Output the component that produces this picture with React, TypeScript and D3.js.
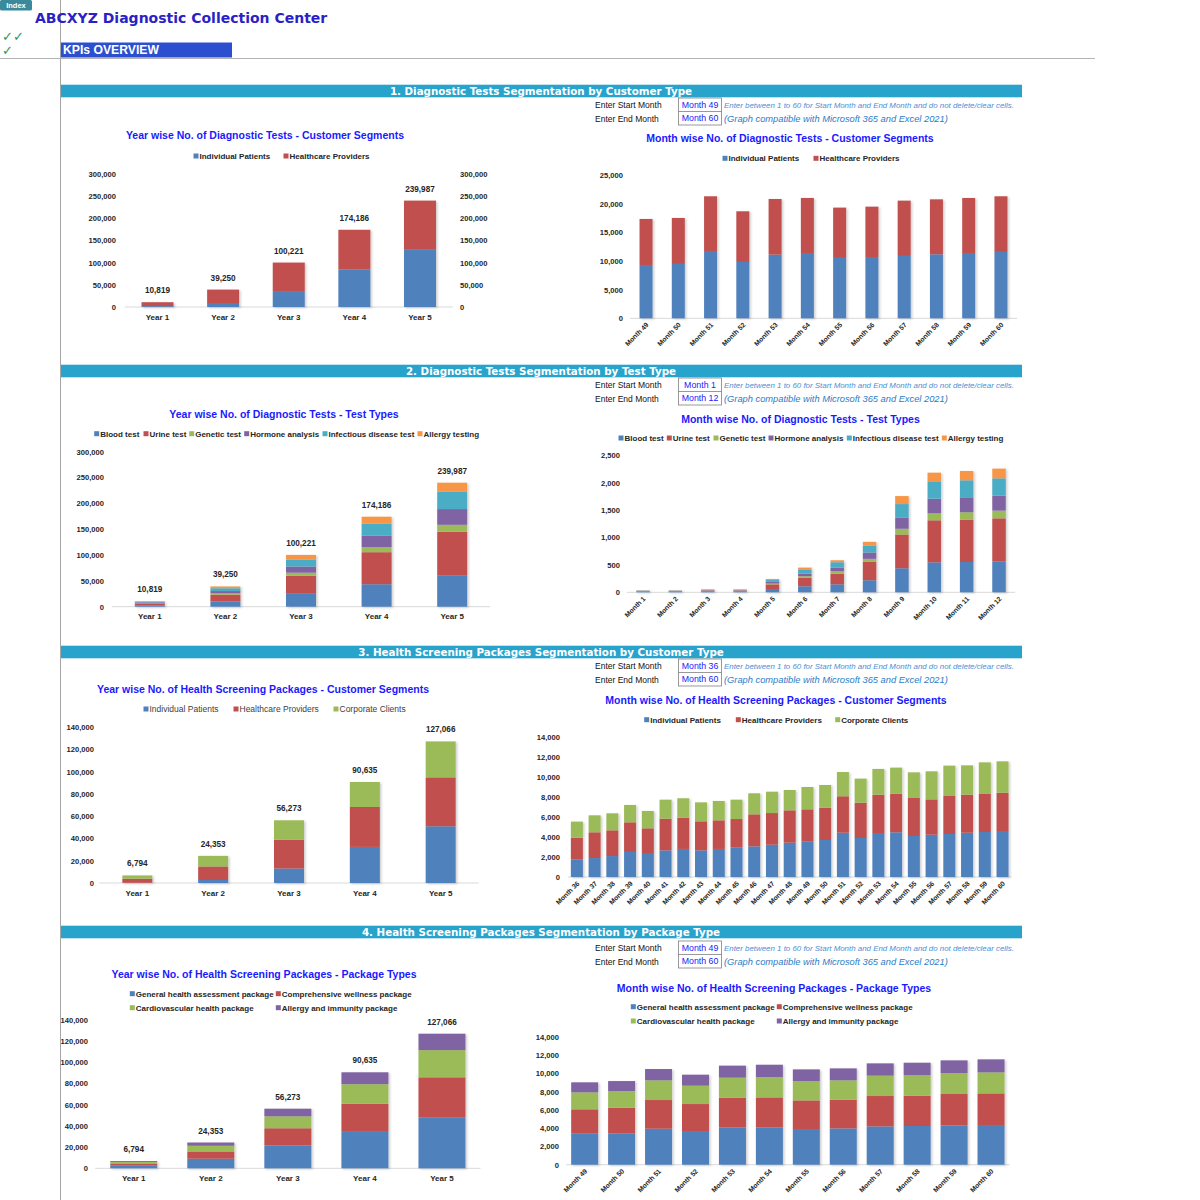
import { useEffect, useRef } from 'react';
import * as d3 from 'd3';

const FONT = '"Liberation Sans", Arial, sans-serif';
const WIDE = '"DejaVu Sans", Verdana, sans-serif';
const BLUE = '#4f81bd';
const RED = '#c0504d';
const GREEN = '#9bbb59';
const PURPLE = '#8064a2';
const TEAL = '#4bacc6';
const ORANGE = '#f79646';

// ---- categories ----
const years = ['Year 1', 'Year 2', 'Year 3', 'Year 4', 'Year 5'];
const months49to60 = ['Month 49', 'Month 50', 'Month 51', 'Month 52', 'Month 53', 'Month 54',
  'Month 55', 'Month 56', 'Month 57', 'Month 58', 'Month 59', 'Month 60'];
const months1to12 = ['Month 1', 'Month 2', 'Month 3', 'Month 4', 'Month 5', 'Month 6',
  'Month 7', 'Month 8', 'Month 9', 'Month 10', 'Month 11', 'Month 12'];
const months36to60 = ['Month 36', 'Month 37', 'Month 38', 'Month 39', 'Month 40', 'Month 41', 'Month 42',
  'Month 43', 'Month 44', 'Month 45', 'Month 46', 'Month 47', 'Month 48', 'Month 49', 'Month 50',
  'Month 51', 'Month 52', 'Month 53', 'Month 54', 'Month 55', 'Month 56', 'Month 57', 'Month 58',
  'Month 59', 'Month 60'];

// ---- 1. diagnostic tests by customer type ----
const dtYearIndividual = [2000, 9000, 36000, 85000, 129000];
const dtYearHealthcare = [8819, 30250, 64221, 89186, 110987];
const dtMonthIndividual = [9320, 9500, 11770, 9850, 11130, 11420, 10550, 10720, 10900, 11190, 11420, 11600];
const dtMonthHealthcare = [8050, 8040, 9560, 8860, 9730, 9620, 8800, 8800, 9670, 9610, 9620, 9730];

// ---- 2. diagnostic tests by test type ----
const ttYearBlood = [2800, 10000, 25000, 43500, 60000];
const ttYearUrine = [3800, 13500, 35000, 62000, 85000];
const ttYearGenetic = [600, 2300, 5800, 9800, 13500];
const ttYearHormone = [1300, 4500, 12000, 22000, 30500];
const ttYearInfectious = [1500, 5500, 13500, 23500, 33500];
const ttYearAllergy = [819, 3450, 8921, 13386, 17487];
const ttMonthBlood = [9, 9, 13, 13, 60, 110, 146, 220, 439, 547, 553, 560];
const ttMonthUrine = [12, 13, 19, 19, 85, 158, 195, 341, 616, 767, 773, 790];
const ttMonthGenetic = [2, 2, 3, 3, 15, 25, 43, 49, 104, 127, 134, 140];
const ttMonthHormone = [5, 5, 7, 7, 30, 48, 67, 116, 207, 268, 273, 274];
const ttMonthInfectious = [5, 5, 8, 8, 35, 67, 98, 122, 244, 304, 311, 316];
const ttMonthAllergy = [4, 3, 5, 5, 19, 43, 36, 73, 146, 170, 170, 177];

// ---- 3. health screening packages by customer type ----
const hsYearIndividual = [200, 2700, 13000, 32400, 50900];
const hsYearHealthcare = [3700, 12150, 25800, 35800, 43900];
const hsYearCorporate = [2894, 9503, 17473, 22435, 32266];
const hsMonthIndividual = [1740, 1900, 2100, 2510, 2310, 2670, 2810, 2670, 2810, 2940, 3070, 3240, 3440,
  3540, 3710, 4440, 3910, 4410, 4480, 4110, 4240, 4310, 4440, 4510, 4610];
const hsMonthHealthcare = [2200, 2580, 2580, 2970, 2570, 3180, 3140, 2910, 2870, 2870, 3210, 3170, 3240,
  3240, 3240, 3650, 3540, 3840, 3870, 3810, 3540, 3810, 3810, 3810, 3840];
const hsMonthCorporate = [1610, 1700, 1700, 1740, 1740, 1900, 1940, 1900, 1940, 1940, 2110, 2140, 2040,
  2240, 2270, 2430, 2410, 2580, 2610, 2570, 2810, 3040, 2940, 3170, 3140];

// ---- 4. health screening packages by package type ----
const pkYearGeneral = [2500, 9060, 21560, 34400, 47800];
const pkYearWellness = [1560, 6840, 16240, 26500, 38100];
const pkYearCardio = [1840, 5350, 11260, 18500, 25660];
const pkYearAllergy = [894, 3103, 7213, 11235, 15506];
const pkMonthGeneral = [3400, 3440, 3950, 3690, 4090, 4090, 3910, 3980, 4200, 4240, 4310, 4350];
const pkMonthWellness = [2670, 2810, 3140, 2960, 3260, 3290, 3140, 3150, 3330, 3330, 3440, 3470];
const pkMonthCardio = [1860, 1830, 2160, 2010, 2190, 2230, 2120, 2120, 2230, 2260, 2300, 2300];
const pkMonthAllergy = [1100, 1090, 1240, 1210, 1320, 1350, 1280, 1310, 1350, 1350, 1390, 1430];

const sectionTitles = [
  '1. Diagnostic Tests Segmentation by Customer Type',
  '2. Diagnostic Tests Segmentation by Test Type',
  '3. Health Screening Packages Segmentation by Customer Type',
  '4. Health Screening Packages Segmentation by Package Type',
];
const startMonths = ['Month 49', 'Month 1', 'Month 36', 'Month 49'];
const endMonths = ['Month 60', 'Month 12', 'Month 60', 'Month 60'];

type Series = { name: string; color: string; values: number[] };
type ChartCfg = {
  title: string; titleX: number; titleY: number;
  categories: string[]; series: Series[];
  x0: number; x1: number; barWidth: number;
  yTop: number; yBottom: number; yMax: number; yStep: number;
  labelX: number; rightLabelX?: number;
  totals?: boolean; rotate?: boolean;
  legend: { x: number; y: number }[];
  legendBold?: boolean;
};

const charts: ChartCfg[] = [
  {
    title: 'Year wise No. of Diagnostic Tests - Customer Segments', titleX: 265, titleY: 139,
    categories: years,
    series: [
      { name: 'Individual Patients', color: BLUE, values: dtYearIndividual },
      { name: 'Healthcare Providers', color: RED, values: dtYearHealthcare },
    ],
    x0: 124.7, x1: 452.8, barWidth: 32, yTop: 174, yBottom: 307, yMax: 300000, yStep: 50000,
    labelX: 116, rightLabelX: 460, totals: true,
    legend: [{ x: 196, y: 156 }, { x: 286, y: 156 }],
  },
  {
    title: 'Month wise No. of Diagnostic Tests - Customer Segments', titleX: 790, titleY: 142,
    categories: months49to60,
    series: [
      { name: 'Individual Patients', color: BLUE, values: dtMonthIndividual },
      { name: 'Healthcare Providers', color: RED, values: dtMonthHealthcare },
    ],
    x0: 629.9, x1: 1017.1, barWidth: 13, yTop: 175.3, yBottom: 318.3, yMax: 25000, yStep: 5000,
    labelX: 623, rotate: true,
    legend: [{ x: 725, y: 158.3 }, { x: 816, y: 158.3 }],
  },
  {
    title: 'Year wise No. of Diagnostic Tests - Test Types', titleX: 284, titleY: 418,
    categories: years,
    series: [
      { name: 'Blood test', color: BLUE, values: ttYearBlood },
      { name: 'Urine test', color: RED, values: ttYearUrine },
      { name: 'Genetic test', color: GREEN, values: ttYearGenetic },
      { name: 'Hormone analysis', color: PURPLE, values: ttYearHormone },
      { name: 'Infectious disease test', color: TEAL, values: ttYearInfectious },
      { name: 'Allergy testing', color: ORANGE, values: ttYearAllergy },
    ],
    x0: 112, x1: 490, barWidth: 30, yTop: 451.7, yBottom: 606.7, yMax: 300000, yStep: 50000,
    labelX: 104, totals: true,
    legend: [{ x: 96.7, y: 433.7 }, { x: 146, y: 433.7 }, { x: 191.7, y: 433.7 },
      { x: 246.7, y: 433.7 }, { x: 325, y: 433.7 }, { x: 420, y: 433.7 }],
  },
  {
    title: 'Month wise No. of Diagnostic Tests - Test Types', titleX: 800.5, titleY: 422.7,
    categories: months1to12,
    series: [
      { name: 'Blood test', color: BLUE, values: ttMonthBlood },
      { name: 'Urine test', color: RED, values: ttMonthUrine },
      { name: 'Genetic test', color: GREEN, values: ttMonthGenetic },
      { name: 'Hormone analysis', color: PURPLE, values: ttMonthHormone },
      { name: 'Infectious disease test', color: TEAL, values: ttMonthInfectious },
      { name: 'Allergy testing', color: ORANGE, values: ttMonthAllergy },
    ],
    x0: 626.8, x1: 1015.2, barWidth: 13.5, yTop: 455.3, yBottom: 592.3, yMax: 2500, yStep: 500,
    labelX: 620, rotate: true,
    legend: [{ x: 621, y: 438 }, { x: 669.3, y: 438 }, { x: 716, y: 438 },
      { x: 771, y: 438 }, { x: 849.3, y: 438 }, { x: 944.3, y: 438 }],
  },
  {
    title: 'Year wise No. of Health Screening Packages - Customer Segments', titleX: 263, titleY: 692.7,
    categories: years,
    series: [
      { name: 'Individual Patients', color: BLUE, values: hsYearIndividual },
      { name: 'Healthcare Providers', color: RED, values: hsYearHealthcare },
      { name: 'Corporate Clients', color: GREEN, values: hsYearCorporate },
    ],
    x0: 99.4, x1: 478.6, barWidth: 30, yTop: 727, yBottom: 883, yMax: 140000, yStep: 20000,
    labelX: 94, totals: true, legendBold: false,
    legend: [{ x: 146, y: 709 }, { x: 236, y: 709 }, { x: 336, y: 709 }],
  },
  {
    title: 'Month wise No. of Health Screening Packages - Customer Segments', titleX: 776, titleY: 704.3,
    categories: months36to60,
    series: [
      { name: 'Individual Patients', color: BLUE, values: hsMonthIndividual },
      { name: 'Healthcare Providers', color: RED, values: hsMonthHealthcare },
      { name: 'Corporate Clients', color: GREEN, values: hsMonthCorporate },
    ],
    x0: 568, x1: 1011.4, barWidth: 12, yTop: 737.3, yBottom: 877, yMax: 14000, yStep: 2000,
    labelX: 560, rotate: true,
    legend: [{ x: 646.7, y: 719.7 }, { x: 738.3, y: 719.7 }, { x: 837.7, y: 719.7 }],
  },
  {
    title: 'Year wise No. of Health Screening Packages - Package Types', titleX: 264, titleY: 978.3,
    categories: years,
    series: [
      { name: 'General health assessment package', color: BLUE, values: pkYearGeneral },
      { name: 'Comprehensive wellness package', color: RED, values: pkYearWellness },
      { name: 'Cardiovascular health package', color: GREEN, values: pkYearCardio },
      { name: 'Allergy and immunity package', color: PURPLE, values: pkYearAllergy },
    ],
    x0: 95.2, x1: 480.5, barWidth: 47, yTop: 1020, yBottom: 1168.3, yMax: 140000, yStep: 20000,
    labelX: 88, totals: true,
    legend: [{ x: 132.3, y: 993.7 }, { x: 278.3, y: 993.7 }, { x: 132.3, y: 1007.7 }, { x: 278.3, y: 1007.7 }],
  },
  {
    title: 'Month wise No. of Health Screening Packages - Package Types', titleX: 774, titleY: 991.7,
    categories: months49to60,
    series: [
      { name: 'General health assessment package', color: BLUE, values: pkMonthGeneral },
      { name: 'Comprehensive wellness package', color: RED, values: pkMonthWellness },
      { name: 'Cardiovascular health package', color: GREEN, values: pkMonthCardio },
      { name: 'Allergy and immunity package', color: PURPLE, values: pkMonthAllergy },
    ],
    x0: 566.2, x1: 1009.5, barWidth: 27, yTop: 1037, yBottom: 1164.7, yMax: 14000, yStep: 2000,
    labelX: 559, rotate: true,
    legend: [{ x: 633.3, y: 1006.7 }, { x: 779.3, y: 1006.7 }, { x: 633.3, y: 1021 }, { x: 779.3, y: 1021 }],
  },
];

const sectionTops = [85, 365, 646, 926];
const controlTops = [98, 378, 659, 941];

function drawChart(svg: d3.Selection<SVGSVGElement, unknown, null, undefined>, c: ChartCfg) {
  const g = svg.append('g').attr('font-family', FONT);
  const x = d3.scalePoint<string>().domain(c.categories).range([c.x0, c.x1]).padding(0.5);
  const y = d3.scaleLinear().domain([0, c.yMax]).range([c.yBottom, c.yTop]);

  const keys = c.series.map(s => s.name);
  const rows = c.categories.map((cat, i) => {
    const r: Record<string, any> = { cat };
    c.series.forEach(s => { r[s.name] = s.values[i]; });
    return r;
  });
  const stacked = d3.stack<Record<string, any>>().keys(keys)(rows);

  // title
  g.append('text')
    .attr('x', c.titleX).attr('y', c.titleY)
    .attr('text-anchor', 'middle')
    .attr('font-size', 10.5).attr('font-weight', 'bold')
    .attr('fill', '#1a1aff')
    .text(c.title);

  // legend
  const regular = c.legendBold === false;
  c.series.forEach((s, i) => {
    const p = c.legend[i];
    g.append('rect').attr('x', p.x - 2.5).attr('y', p.y - 2.5).attr('width', 5).attr('height', 5).attr('fill', s.color);
    g.append('text')
      .attr('x', p.x + 3.5).attr('y', p.y + 2.9)
      .attr('font-size', regular ? 8.5 : 8).attr('font-weight', regular ? 'normal' : 'bold')
      .attr('fill', regular ? '#404040' : '#262626')
      .text(s.name);
  });

  // y axis
  const ticks = d3.range(0, c.yMax + 1, c.yStep);
  const yAxis = d3.axisLeft(y).tickValues(ticks).tickSize(0).tickPadding(0).tickFormat(d3.format(','));
  const ya = g.append('g').attr('transform', `translate(${c.labelX},0)`).call(yAxis);
  ya.select('.domain').remove();
  ya.selectAll('text').attr('font-size', 7.6).attr('font-weight', 'bold').attr('fill', '#262626').attr('font-family', FONT);

  if (c.rightLabelX !== undefined) {
    const yAxisR = d3.axisRight(y).tickValues(ticks).tickSize(0).tickPadding(0).tickFormat(d3.format(','));
    const yr = g.append('g').attr('transform', `translate(${c.rightLabelX},0)`).call(yAxisR);
    yr.select('.domain').remove();
    yr.selectAll('text').attr('font-size', 7.6).attr('font-weight', 'bold').attr('fill', '#262626').attr('font-family', FONT);
  }

  // baseline
  g.append('line')
    .attr('x1', c.x0).attr('x2', c.x1)
    .attr('y1', y(0)).attr('y2', y(0))
    .attr('stroke', '#d9d9d9').attr('stroke-width', 1);

  // bars
  g.append('g').attr('filter', 'url(#barShadow)')
    .selectAll('g')
    .data(stacked)
    .join('g')
    .attr('fill', (_d, i) => c.series[i].color)
    .selectAll('rect')
    .data(d => d)
    .join('rect')
    .attr('x', d => (x(d.data.cat) as number) - c.barWidth / 2)
    .attr('y', d => y(d[1]))
    .attr('width', c.barWidth)
    .attr('height', d => Math.max(0, y(d[0]) - y(d[1])));

  // total labels
  if (c.totals) {
    g.selectAll('text.total')
      .data(rows)
      .join('text')
      .attr('class', 'total')
      .attr('x', d => x(d.cat) as number)
      .attr('y', d => y(d3.sum(keys, k => d[k])) - 9)
      .attr('text-anchor', 'middle')
      .attr('font-size', 8.2).attr('font-weight', 'bold').attr('fill', '#262626')
      .text(d => d3.format(',')(d3.sum(keys, k => d[k])));
  }

  // category labels
  if (c.rotate) {
    g.selectAll('text.cat')
      .data(c.categories)
      .join('text')
      .attr('class', 'cat')
      .attr('transform', d => `translate(${(x(d) as number) + 3},${c.yBottom + 7}) rotate(-45)`)
      .attr('text-anchor', 'end')
      .attr('font-size', 6.8).attr('font-weight', 'bold').attr('fill', '#262626')
      .text(d => d);
  } else {
    g.selectAll('text.cat')
      .data(c.categories)
      .join('text')
      .attr('class', 'cat')
      .attr('x', d => x(d) as number)
      .attr('y', c.yBottom + 12.5)
      .attr('text-anchor', 'middle')
      .attr('font-size', 8).attr('font-weight', 'bold').attr('fill', '#262626')
      .text(d => d);
  }
}

export default function App() {
  const svgRef = useRef<SVGSVGElement>(null);

  useEffect(() => {
    if (!svgRef.current) return;
    const svg = d3.select(svgRef.current);
    svg.selectAll('*').remove();

    const defs = svg.append('defs');
    defs.append('filter').attr('id', 'barShadow')
      .attr('x', '-20%').attr('y', '-20%').attr('width', '150%').attr('height', '150%')
      .append('feDropShadow')
      .attr('dx', 1.5).attr('dy', 1).attr('stdDeviation', 1.2)
      .attr('flood-color', '#000').attr('flood-opacity', 0.2);

    svg.append('rect').attr('width', 1200).attr('height', 1200).attr('fill', '#fff');

    // sheet header
    svg.append('rect').attr('x', 0).attr('y', 0).attr('width', 32).attr('height', 10.5).attr('rx', 1.5).attr('fill', '#3a8a9c');
    svg.append('text').attr('x', 16).attr('y', 8).attr('text-anchor', 'middle')
      .attr('font-family', FONT).attr('font-size', 7.5).attr('font-weight', 'bold').attr('fill', '#fff').text('Index');

    svg.append('line').attr('x1', 60.5).attr('x2', 60.5).attr('y1', 0).attr('y2', 1200).attr('stroke', '#a6a6a6');
    svg.append('line').attr('x1', 0).attr('x2', 1095).attr('y1', 58.5).attr('y2', 58.5).attr('stroke', '#b4b4b4').attr('stroke-width', 1.2);

    svg.append('text').attr('x', 35).attr('y', 23)
      .attr('font-family', WIDE).attr('font-size', 14).attr('font-weight', 'bold').attr('fill', '#2b1fc6')
      .text('ABCXYZ Diagnostic Collection Center');

    svg.append('text').attr('x', 2).attr('y', 41)
      .attr('font-family', WIDE).attr('font-size', 13).attr('fill', '#1d9a5b').text('✓✓');
    svg.append('text').attr('x', 2).attr('y', 55)
      .attr('font-family', WIDE).attr('font-size', 13).attr('fill', '#1d9a5b').text('✓');

    svg.append('rect').attr('x', 61).attr('y', 42.5).attr('width', 171).attr('height', 15).attr('fill', '#2b4fcf');
    svg.append('text').attr('x', 63).attr('y', 54.2)
      .attr('font-family', FONT).attr('font-size', 12.2).attr('font-weight', 'bold').attr('fill', '#fff')
      .text('KPIs OVERVIEW');

    // section bars and month controls
    sectionTitles.forEach((t, i) => {
      const top = sectionTops[i];
      svg.append('rect').attr('x', 61).attr('y', top - 1).attr('width', 961).attr('height', 14).attr('fill', '#bfe3f0');
      svg.append('rect').attr('x', 61).attr('y', top).attr('width', 961).attr('height', 12).attr('fill', '#28a3cc');
      svg.append('text').attr('x', 541).attr('y', top + 9.5).attr('text-anchor', 'middle')
        .attr('font-family', WIDE).attr('font-size', 10.3).attr('font-weight', 'bold').attr('fill', '#fff')
        .text(t);

      const ct = controlTops[i];
      const cg = svg.append('g').attr('font-family', FONT);
      cg.append('text').attr('x', 595).attr('y', ct + 10).attr('font-size', 8.5).attr('fill', '#111').text('Enter Start Month');
      cg.append('text').attr('x', 595).attr('y', ct + 23.5).attr('font-size', 8.5).attr('fill', '#111').text('Enter End Month');
      cg.append('rect').attr('x', 678.5).attr('y', ct).attr('width', 43).attr('height', 27)
        .attr('fill', '#fff').attr('stroke', '#7f7f7f').attr('stroke-width', 0.8);
      cg.append('line').attr('x1', 678.5).attr('x2', 721.5).attr('y1', ct + 13.5).attr('y2', ct + 13.5)
        .attr('stroke', '#7f7f7f').attr('stroke-width', 0.8);
      cg.append('text').attr('x', 700).attr('y', ct + 9.8).attr('text-anchor', 'middle')
        .attr('font-size', 8.8).attr('fill', '#1a1aff').text(startMonths[i]);
      cg.append('text').attr('x', 700).attr('y', ct + 23.3).attr('text-anchor', 'middle')
        .attr('font-size', 8.8).attr('fill', '#1a1aff').text(endMonths[i]);
      cg.append('text').attr('x', 724).attr('y', ct + 10).attr('font-size', 7.9).attr('font-style', 'italic')
        .attr('fill', '#4a8fd6').text('Enter between 1 to 60 for Start Month and End Month and do not delete/clear cells.');
      cg.append('text').attr('x', 724).attr('y', ct + 23.5).attr('font-size', 9.3).attr('font-style', 'italic')
        .attr('fill', '#2a7cc7').text('(Graph compatible with Microsoft 365 and Excel 2021)');
    });

    charts.forEach(c => drawChart(svg, c));
  }, []);

  return (
    <svg
      ref={svgRef}
      width={1200}
      height={1200}
      style={{ position: 'absolute', left: 0, top: 0, display: 'block' }}
    />
  );
}
